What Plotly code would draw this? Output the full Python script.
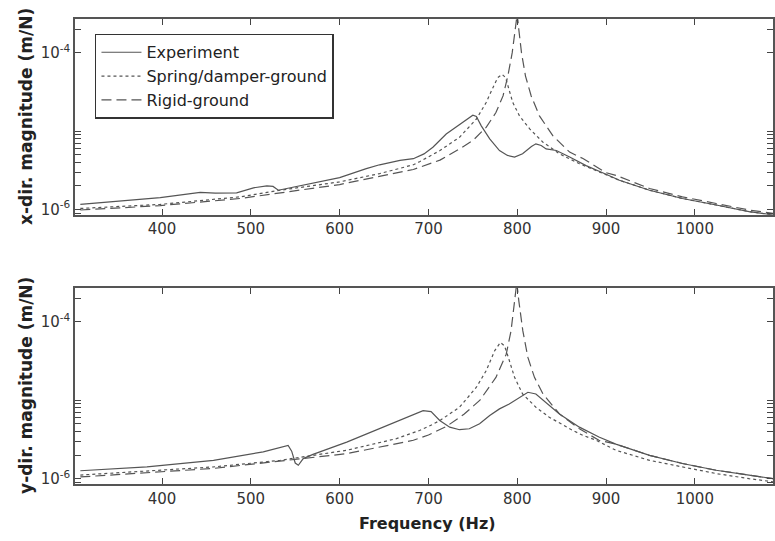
import plotly.graph_objects as go

# ---------------- Top panel: x-direction ----------------
fx_exp = [308, 353, 398, 443, 460, 484, 503, 518, 525, 531, 555, 600, 630, 645, 668, 683, 695, 705,
          720, 728, 739, 750, 754, 759.5, 769, 780, 789, 797, 806, 816, 821, 827, 832.5, 844, 859,
          877.5, 900, 915, 949, 986, 1024, 1061, 1088]
mx_exp = [1.16e-6, 1.28e-6, 1.42e-6, 1.65e-6, 1.62e-6, 1.63e-6, 1.89e-6, 2.00e-6, 1.97e-6, 1.76e-6,
          2.00e-6, 2.55e-6, 3.32e-6, 3.72e-6, 4.24e-6, 4.45e-6, 5.13e-6, 6.24e-6, 9.2e-6, 1.07e-5,
          1.29e-5, 1.60e-5, 1.54e-5, 1.17e-5, 7.96e-6, 5.66e-6, 4.90e-6, 4.67e-6, 5.14e-6, 6.37e-6,
          6.89e-6, 6.56e-6, 5.94e-6, 5.66e-6, 4.67e-6, 3.63e-6, 2.82e-6, 2.36e-6, 1.76e-6, 1.38e-6,
          1.14e-6, 9.38e-7, 8.51e-7]

fx_spr = [308, 398, 488, 533, 600, 645, 683, 690, 713, 735, 754, 765, 772.6, 778, 783, 787, 790.6,
          795, 802.5, 814, 829, 847.5, 870, 892, 915, 949, 986, 1024, 1061, 1088]
mx_spr = [1.03e-6, 1.16e-6, 1.45e-6, 1.76e-6, 2.25e-6, 2.87e-6, 3.72e-6, 4.07e-6, 5.66e-6, 8.36e-6,
          1.43e-5, 2.32e-5, 3.60e-5, 4.82e-5, 5.31e-5, 4.82e-5, 3.43e-5, 2.32e-5, 1.57e-5, 1.07e-5,
          7.23e-6, 5.14e-6, 3.84e-6, 3.01e-6, 2.36e-6, 1.76e-6, 1.38e-6, 1.14e-6, 9.38e-7, 8.51e-7]

fx_rig = [308, 398, 488, 600, 683, 713, 735, 750, 765, 776, 784, 789.4, 794.3, 797.3, 800, 801.8,
          804.8, 809.3, 815.7, 825, 840, 859, 874, 900, 911, 949, 986, 1024, 1061, 1088]
mx_rig = [9.84e-7, 1.12e-6, 1.38e-6, 2.08e-6, 3.24e-6, 4.27e-6, 5.94e-6, 7.59e-6, 1.12e-5, 1.73e-5,
          2.82e-5, 5.06e-5, 1.00e-4, 1.79e-4, 3.16e-4, 1.97e-4, 1.00e-4, 5.06e-5, 2.82e-5, 1.57e-5,
          8.77e-6, 5.40e-6, 4.47e-6, 2.95e-6, 2.73e-6, 1.85e-6, 1.45e-6, 1.19e-6, 9.84e-7, 8.91e-7]

# ---------------- Bottom panel: y-direction ----------------
fy_exp = [308, 383, 458, 514, 542, 546, 550, 553.5, 559, 570, 608, 645, 668, 683, 694, 703, 712.7,
          724, 735, 746, 757.6, 769, 780, 791, 802.6, 812, 821, 832.5, 847.5, 870, 892, 911, 949,
          986, 1024, 1061, 1088]
my_exp = [1.26e-6, 1.41e-6, 1.71e-6, 2.19e-6, 2.65e-6, 2.24e-6, 1.58e-6, 1.48e-6, 1.80e-6, 2.04e-6,
          2.92e-6, 4.32e-6, 5.51e-6, 6.56e-6, 7.33e-6, 7.16e-6, 5.51e-6, 4.53e-6, 4.20e-6, 4.32e-6,
          5.00e-6, 6.37e-6, 7.74e-6, 8.95e-6, 1.09e-5, 1.26e-5, 1.20e-5, 9.40e-6, 6.68e-6, 4.53e-6,
          3.39e-6, 2.75e-6, 1.98e-6, 1.56e-6, 1.28e-6, 1.11e-6, 1.00e-6]

fy_spr = [308, 458, 533, 608, 664, 690, 701, 713, 735, 754, 765, 774.5, 781, 785.7, 790.6, 797, 806,
          821, 836, 862.5, 874, 889, 911, 949, 986, 1024, 1061, 1088]
my_spr = [1.11e-6, 1.41e-6, 1.71e-6, 2.30e-6, 3.23e-6, 4.11e-6, 4.68e-6, 5.51e-6, 8.13e-6, 1.46e-5,
          2.37e-5, 4.25e-5, 5.42e-5, 4.92e-5, 3.33e-5, 1.95e-5, 1.20e-5, 8.13e-6, 6.07e-6, 4.11e-6,
          3.56e-6, 3.08e-6, 2.30e-6, 1.71e-6, 1.41e-6, 1.16e-6, 1.00e-6, 9.12e-7]

fy_rig = [308, 458, 608, 683, 700, 720, 740, 758, 776, 787.6, 793, 797, 799.5, 801.8, 806.3, 812, 819.4,
          829, 847.5, 870, 892, 911, 949, 986, 1024, 1061, 1088]
my_rig = [1.05e-6, 1.35e-6, 2.08e-6, 3.08e-6, 3.60e-6, 4.60e-6, 6.60e-6, 1.00e-5, 1.95e-5, 3.85e-5, 7.62e-5,
          1.66e-4, 3.16e-4, 1.83e-4, 7.62e-5, 3.50e-5, 1.95e-5, 1.20e-5, 6.68e-6, 4.32e-6, 3.08e-6,
          2.75e-6, 1.98e-6, 1.56e-6, 1.28e-6, 1.11e-6, 1.00e-6]

x_ticks = [400, 500, 600, 700, 800, 900, 1000]
y_tickvals = [9e-7, 1e-6, 2e-6, 3e-6, 4e-6, 5e-6, 6e-6, 7e-6, 8e-6, 9e-6, 1e-5, 1e-4, 2e-4]
y_ticktext = ["", "10<sup>-6</sup>", "", "", "", "", "", "", "", "", "", "10<sup>-4</sup>", ""]
names = ["Experiment", "Spring/damper-ground", "Rigid-ground"]
titles = ["x-dir. magnitude (m/N)", "y-dir. magnitude (m/N)", "Frequency (Hz)"]

LINE_COL = "#555555"
dashes = ["solid", "3px,3px", "10px,5px"]

fig = go.Figure()
top = [(fx_exp, mx_exp), (fx_spr, mx_spr), (fx_rig, mx_rig)]
bot = [(fy_exp, my_exp), (fy_spr, my_spr), (fy_rig, my_rig)]
for i, (fx, mx) in enumerate(top):
    fig.add_trace(go.Scatter(x=fx, y=mx, mode="lines", name=names[i],
                             line=dict(color=LINE_COL, width=1.2, dash=dashes[i]),
                             xaxis="x", yaxis="y", showlegend=True))
for i, (fy, my) in enumerate(bot):
    fig.add_trace(go.Scatter(x=fy, y=my, mode="lines", name=names[i],
                             line=dict(color=LINE_COL, width=1.2, dash=dashes[i]),
                             xaxis="x2", yaxis="y2", showlegend=False))

FONT = "DejaVu Sans, Arial, sans-serif"
axcommon = dict(showline=True, linecolor="#555555", linewidth=1.5, mirror="ticks",
                ticks="inside", ticklen=6, tickwidth=1.2, tickcolor="#444444",
                showgrid=False, zeroline=False,
                tickfont=dict(family=FONT, size=15, color="#333333"))

xr = [302, 1088]
yr = [-6.067, -3.569]

top_dom = [0.6002, 0.9643]
bot_dom = [0.0989, 0.464]

fig.update_layout(
    width=775, height=541,
    margin=dict(l=75, r=1, t=0, b=0),
    paper_bgcolor="white", plot_bgcolor="white",
    font=dict(family=FONT, size=15, color="#333333"),
    xaxis=dict(domain=[0, 1], anchor="y", range=xr, tickmode="array", tickvals=x_ticks, **axcommon),
    yaxis=dict(domain=top_dom, anchor="x", type="log", range=yr,
               tickmode="array", tickvals=y_tickvals, ticktext=y_ticktext, **axcommon),
    xaxis2=dict(domain=[0, 1], anchor="y2", range=xr, tickmode="array", tickvals=x_ticks, **axcommon),
    yaxis2=dict(domain=bot_dom, anchor="x2", type="log", range=yr,
                tickmode="array", tickvals=y_tickvals, ticktext=y_ticktext, **axcommon),
    legend=dict(x=0.0286, y=0.937, xanchor="left", yanchor="top",
                bgcolor="white", bordercolor="#333333", borderwidth=1.5,
                font=dict(family=FONT, size=16, color="#222222"),
                tracegroupgap=0, itemwidth=40),
    showlegend=True,
)

TITLE_FONT = dict(family=FONT, size=17, color="#222222")
fig.add_annotation(text="<b>" + titles[0] + "</b>", xref="paper", yref="paper",
                   x=-0.0701, y=sum(top_dom) / 2, xanchor="center", yanchor="middle",
                   textangle=-90, showarrow=False, font=TITLE_FONT)
fig.add_annotation(text="<b>" + titles[1] + "</b>", xref="paper", yref="paper",
                   x=-0.0701, y=sum(bot_dom) / 2, xanchor="center", yanchor="middle",
                   textangle=-90, showarrow=False, font=TITLE_FONT)
fig.add_annotation(text="<b>" + titles[2] + "</b>", xref="paper", yref="paper",
                   x=0.505, y=0.0259, xanchor="center", yanchor="middle",
                   showarrow=False, font=dict(family=FONT, size=16, color="#222222"))

fig.write_html("out.html")
